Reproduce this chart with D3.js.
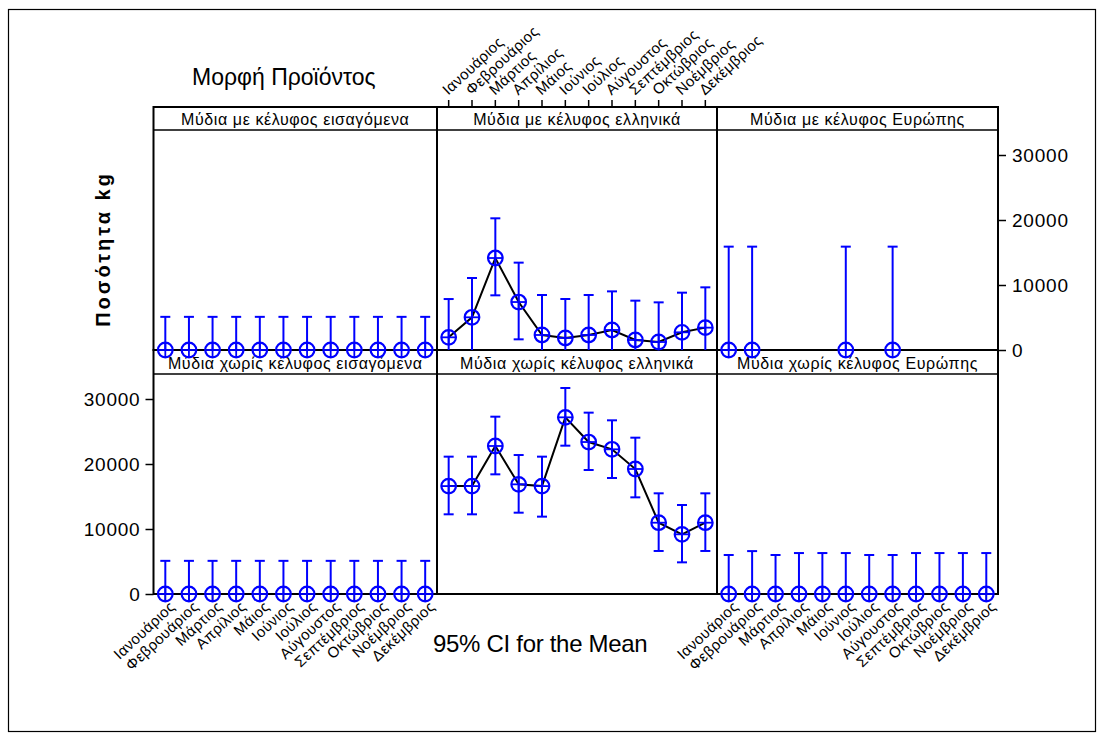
<!DOCTYPE html>
<html>
<head>
<meta charset="utf-8">
<script src="https://cdn.jsdelivr.net/npm/d3@7"></script>
<style>
  html, body { margin: 0; padding: 0; background: #fff; }
  svg { display: block; font-family: "Liberation Sans", Arial, sans-serif; }
</style>
</head>
<body>
<svg id="chart" width="1104" height="740"></svg>
<script>
// ---------- data ----------
const months = ["Ιανουάριος", "Φεβρουάριος", "Μάρτιος", "Απρίλιος", "Μάιος", "Ιούνιος",
                "Ιούλιος", "Αύγουστος", "Σεπτέμβριος", "Οκτώβριος", "Νοέμβριος", "Δεκέμβριος"];
const yTicks = [0, 10000, 20000, 30000];

const titlesTop = ["Μύδια με κέλυφος εισαγόμενα", "Μύδια με κέλυφος ελληνικά", "Μύδια με κέλυφος Ευρώπης"];
const titlesBottom = ["Μύδια χωρίς κέλυφος εισαγόμενα", "Μύδια χωρίς κέλυφος ελληνικά", "Μύδια χωρίς κέλυφος Ευρώπης"];

const meanShellImported  = [0, 0, 0, 0, 0, 0, 0, 0, 0, 0, 0, 0];
const upperShellImported = [5100, 5100, 5100, 5100, 5100, 5100, 5100, 5100, 5100, 5100, 5100, 5100];
const lowerShellImported = [0, 0, 0, 0, 0, 0, 0, 0, 0, 0, 0, 0];

const meanShellGreek  = [1950, 5030, 14150, 7380, 2310, 1850, 2310, 3080, 1540, 1230, 2720, 3440];
const upperShellGreek = [7840, 11080, 20260, 13440, 8460, 7850, 8460, 9020, 7590, 7330, 8820, 9640];
const lowerShellGreek = [0, 0, 8410, 1640, 0, 0, 0, 0, 0, 0, 0, 0];

const meanShellEurope  = [0, 0, null, null, null, 0, null, 0, null, null, null, null];
const upperShellEurope = [15900, 15900, null, null, null, 15900, null, 15900, null, null, null, null];
const lowerShellEurope = [0, 0, null, null, null, 0, null, 0, null, null, null, null];

const meanNoShellImported  = [0, 0, 0, 0, 0, 0, 0, 0, 0, 0, 0, 0];
const upperNoShellImported = [5100, 5100, 5100, 5100, 5100, 5100, 5100, 5100, 5100, 5100, 5100, 5100];
const lowerNoShellImported = [0, 0, 0, 0, 0, 0, 0, 0, 0, 0, 0, 0];

const meanNoShellGreek  = [16600, 16600, 22770, 16870, 16600, 27180, 23380, 22260, 19230, 10970, 9180, 10970];
const upperNoShellGreek = [21130, 21130, 27280, 21380, 21130, 31690, 27900, 26720, 24050, 15490, 13690, 15490];
const lowerNoShellGreek = [12260, 12260, 18410, 12510, 11900, 22820, 19080, 17850, 14870, 6620, 4870, 6620];

const meanNoShellEurope  = [0, 0, 0, 0, 0, 0, 0, 0, 0, 0, 0, 0];
const upperNoShellEurope = [6000, 6600, 6000, 6300, 6300, 6300, 6000, 6000, 6300, 6300, 6300, 6300];
const lowerNoShellEurope = [0, 0, 0, 0, 0, 0, 0, 0, 0, 0, 0, 0];

const panels = [
  {row: 0, col: 0, title: titlesTop[0], mean: meanShellImported, upper: upperShellImported, lower: lowerShellImported},
  {row: 0, col: 1, title: titlesTop[1], mean: meanShellGreek, upper: upperShellGreek, lower: lowerShellGreek},
  {row: 0, col: 2, title: titlesTop[2], mean: meanShellEurope, upper: upperShellEurope, lower: lowerShellEurope},
  {row: 1, col: 0, title: titlesBottom[0], mean: meanNoShellImported, upper: upperNoShellImported, lower: lowerNoShellImported},
  {row: 1, col: 1, title: titlesBottom[1], mean: meanNoShellGreek, upper: upperNoShellGreek, lower: lowerNoShellGreek},
  {row: 1, col: 2, title: titlesBottom[2], mean: meanNoShellEurope, upper: upperNoShellEurope, lower: lowerNoShellEurope}
];

// ---------- layout ----------
const colEdges = [153.5, 437, 717, 998];
const stripTop = [107, 350];
const plotTop = [130, 374];
const plotBottom = [350, 594];
const BLUE = "#0000ff";

const svg = d3.select("#chart");

// outer frame
svg.append("rect").attr("x", 8.5).attr("y", 9.5).attr("width", 1087).attr("height", 722)
  .attr("fill", "none").attr("stroke", "#000").attr("stroke-width", 1.2);

const xScales = [0, 1, 2].map(c => d3.scaleBand().domain(months).range([colEdges[c], colEdges[c + 1]]));
const yScales = [0, 1].map(r => d3.scaleLinear().domain([0, 30000]).range([plotBottom[r], plotBottom[r] - 195]));

// panel frames and strips
panels.forEach(p => {
  const x0 = colEdges[p.col], x1 = colEdges[p.col + 1];
  const g = svg.append("g");
  g.append("rect").attr("x", x0).attr("y", stripTop[p.row]).attr("width", x1 - x0)
    .attr("height", plotBottom[p.row] - stripTop[p.row])
    .attr("fill", "none").attr("stroke", "#000").attr("stroke-width", 2);
  g.append("line").attr("x1", x0).attr("x2", x1).attr("y1", plotTop[p.row]).attr("y2", plotTop[p.row])
    .attr("stroke", "#000").attr("stroke-width", 1.5);
  g.append("text").attr("x", (x0 + x1) / 2).attr("y", plotTop[p.row] - 5)
    .attr("text-anchor", "middle").attr("font-size", 16).attr("letter-spacing", 0.6)
    .attr("fill", "#000").text(p.title);
});

// axes
const fmt = d3.format("d");
const leftAxis = d3.axisLeft(yScales[1]).tickValues(yTicks).tickFormat(fmt).tickSize(8).tickPadding(5);
const gl = svg.append("g").attr("transform", `translate(${colEdges[0]},0)`).call(leftAxis);
const rightAxis = d3.axisRight(yScales[0]).tickValues(yTicks).tickFormat(fmt).tickSize(8).tickPadding(6);
const gr = svg.append("g").attr("transform", `translate(${colEdges[3]},0)`).call(rightAxis);
[gl, gr].forEach(g => {
  g.select(".domain").remove();
  g.selectAll(".tick line").attr("stroke", "#000").attr("stroke-width", 1.5);
  g.selectAll(".tick text").attr("font-size", 19).attr("fill", "#000")
    .attr("font-family", "Liberation Sans, Arial, sans-serif").attr("letter-spacing", 0.8);
});

// bottom x axes (col 0 and col 2)
[0, 2].forEach(c => {
  const ax = d3.axisBottom(xScales[c]).tickSize(8).tickFormat("");
  const g = svg.append("g").attr("transform", `translate(0,${plotBottom[1]})`).call(ax);
  g.select(".domain").remove();
  g.selectAll(".tick line").attr("stroke", "#000").attr("stroke-width", 1.5);
  months.forEach(m => {
    const x = xScales[c](m) + xScales[c].bandwidth() / 2;
    svg.append("text")
      .attr("transform", `translate(${x + 7},${plotBottom[1] + 10}) rotate(-43)`)
      .attr("text-anchor", "end").attr("dy", "0.35em").attr("font-size", 15)
      .attr("letter-spacing", 0.4).attr("fill", "#000").text(m);
  });
});

// top x axis (col 1)
{
  const c = 1;
  const ax = d3.axisTop(xScales[c]).tickSize(7).tickFormat("");
  const g = svg.append("g").attr("transform", `translate(0,${stripTop[0]})`).call(ax);
  g.select(".domain").remove();
  g.selectAll(".tick line").attr("stroke", "#000").attr("stroke-width", 1.5);
  months.forEach(m => {
    const x = xScales[c](m) + xScales[c].bandwidth() / 2;
    svg.append("text")
      .attr("transform", `translate(${x - 4},${stripTop[0] - 15}) rotate(-43)`)
      .attr("text-anchor", "start").attr("dy", "0.35em").attr("font-size", 15)
      .attr("letter-spacing", 0.4).attr("fill", "#000").text(m);
  });
}

// marks
panels.forEach(p => {
  const xs = xScales[p.col], ys = yScales[p.row];
  const cx = i => xs(months[i]) + xs.bandwidth() / 2;
  const pts = months.map((m, i) => ({i, mean: p.mean[i], up: p.upper[i], lo: p.lower[i]}))
    .filter(d => d.mean !== null);
  const g = svg.append("g");
  const line = d3.line().x(d => cx(d.i)).y(d => ys(d.mean));
  g.append("path").attr("d", line(pts)).attr("fill", "none").attr("stroke", "#000").attr("stroke-width", 2);
  pts.forEach(d => {
    const x = cx(d.i);
    g.append("line").attr("x1", x).attr("x2", x).attr("y1", ys(d.lo)).attr("y2", ys(d.up))
      .attr("stroke", BLUE).attr("stroke-width", 2);
    g.append("line").attr("x1", x - 5).attr("x2", x + 5).attr("y1", ys(d.up)).attr("y2", ys(d.up))
      .attr("stroke", BLUE).attr("stroke-width", 2);
    if (d.lo > 0) {
      g.append("line").attr("x1", x - 5).attr("x2", x + 5).attr("y1", ys(d.lo)).attr("y2", ys(d.lo))
        .attr("stroke", BLUE).attr("stroke-width", 2);
    }
  });
  pts.forEach(d => {
    const x = cx(d.i), y = ys(d.mean), r = 7.3;
    g.append("circle").attr("cx", x).attr("cy", y).attr("r", r)
      .attr("fill", "none").attr("stroke", BLUE).attr("stroke-width", 2.2);
    g.append("line").attr("x1", x - r).attr("x2", x + r).attr("y1", y).attr("y2", y)
      .attr("stroke", BLUE).attr("stroke-width", 1.8);
    g.append("line").attr("x1", x).attr("x2", x).attr("y1", y - r).attr("y2", y + r)
      .attr("stroke", BLUE).attr("stroke-width", 1.8);
  });
});

// titles
svg.append("text").attr("x", 192).attr("y", 85).attr("font-size", 23).attr("fill", "#000")
  .text("Μορφή Προϊόντος");
svg.append("text").attr("x", 433).attr("y", 652).attr("font-size", 24).attr("fill", "#000")
  .attr("letter-spacing", -0.3).text("95% CI for the Mean");
svg.append("text").attr("transform", "translate(110,249) rotate(-90)")
  .attr("text-anchor", "middle").attr("font-size", 20).attr("font-weight", "bold")
  .attr("letter-spacing", 3).attr("fill", "#000").text("Ποσότητα kg");
</script>
</body>
</html>
